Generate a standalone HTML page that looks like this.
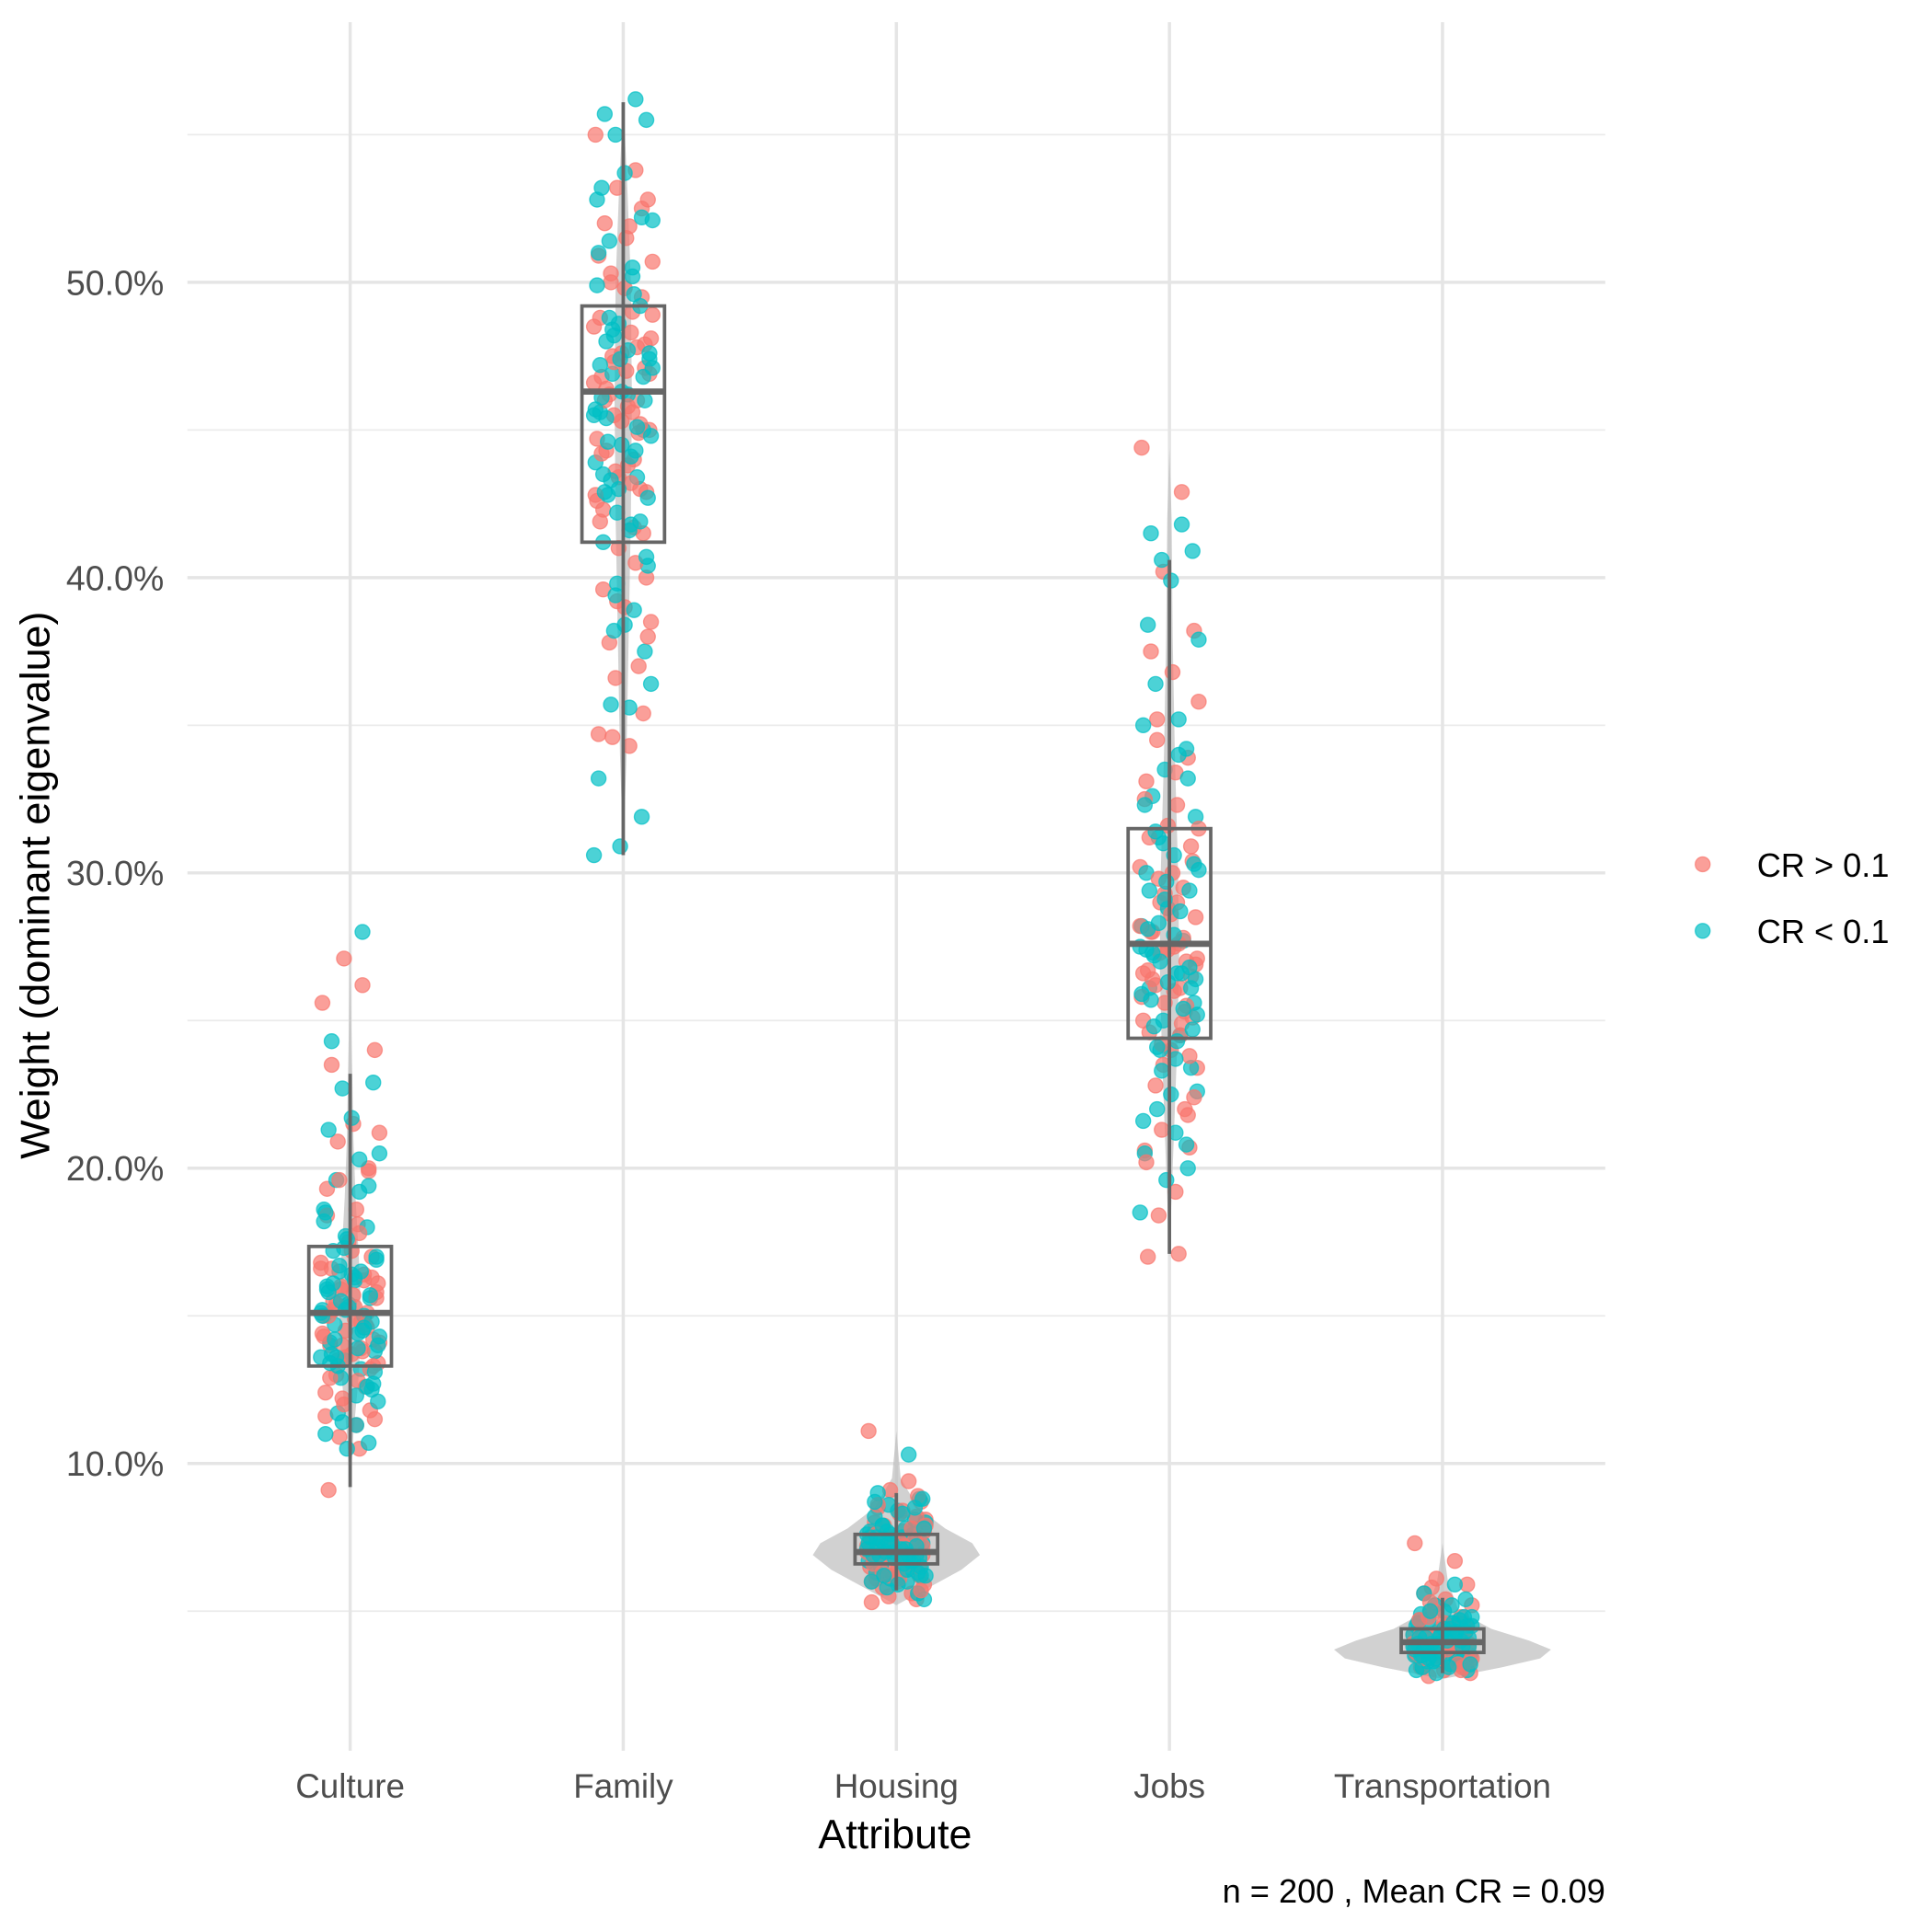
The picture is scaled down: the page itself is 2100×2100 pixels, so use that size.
<!DOCTYPE html>
<html><head><meta charset="utf-8"><style>
html,body{margin:0;padding:0;background:#fff;}
svg{display:block;font-family:"Liberation Sans",Arial,sans-serif;}
</style></head>
<body>
<svg id="chart" width="2100" height="2100" viewBox="0 0 1567 1567" xmlns="http://www.w3.org/2000/svg">
<g id="grid"></g>
<g id="violins"></g>
<g id="points"></g>
<g id="boxes"></g>
<g id="axes"></g>
<text transform="translate(40,718) rotate(-90)" text-anchor="middle" font-size="33.5" fill="#000">Weight (dominant eigenvalue)</text>
<text x="726" y="1499" text-anchor="middle" font-size="33.5" fill="#000">Attribute</text>
<text x="1302" y="1543" text-anchor="end" font-size="27" fill="#000">n = 200 , Mean CR = 0.09</text>
<g>
<circle cx="1381" cy="701" r="6" fill="#F8766D" fill-opacity="0.7" stroke="#F8766D" stroke-opacity="0.7"/>
<text x="1425" y="711" font-size="27" fill="#000">CR &gt; 0.1</text>
<circle cx="1381" cy="755" r="6" fill="#00BFC4" fill-opacity="0.7" stroke="#00BFC4" stroke-opacity="0.7"/>
<text x="1425" y="765" font-size="27" fill="#000">CR &lt; 0.1</text>
</g>
</svg>
<script>
const categories=["Culture","Family","Housing","Jobs","Transportation"];
const yTicks=[10,20,30,40,50];
const yTickLabels=["10.0%","20.0%","30.0%","40.0%","50.0%"];
const yMinor=[5,15,25,35,45,55];
const boxQ1=[13.3,41.2,6.6,24.4,3.6];
const boxMedian=[15.1,46.3,7.0,27.6,3.95];
const boxQ3=[17.35,49.2,7.6,31.5,4.4];
const whiskerLow=[9.2,30.6,5.7,17.1,2.9];
const whiskerHigh=[23.2,56.1,9.0,40.6,5.45];
const violinLevels=[
 [9.1,11,13,15,17,19,21,23,25,28],
 [30.6,34,38,42,46,50,53,56.2],
 [5.2,5.8,6.4,6.9,7.3,7.8,8.5,9.5,11.1],
 [17,20,24,27,30,34,38,42,44.4],
 [2.7,3.1,3.4,3.7,4.0,4.4,5.0,6.0,7.3]];
const violinDensity=[
 [0,0.03,0.08,0.1,0.08,0.05,0.03,0.02,0.01,0],
 [0,0.03,0.05,0.07,0.08,0.07,0.04,0],
 [0,0.3,0.6,0.77,0.7,0.45,0.2,0.04,0],
 [0,0.03,0.07,0.09,0.08,0.05,0.03,0.02,0],
 [0,0.55,0.9,1.0,0.8,0.45,0.15,0.05,0]];
const redValues=[
 [25.6,26.2,27.1,24.0,23.5,21.5,21.2,20.9,19.9,19.3,18.1,17.5,17.0,16.6,16.2,16.0,15.8,15.5,15.3,15.1,15.0,14.8,14.5,14.2,14.0,13.7,13.4,13.0,12.6,12.2,11.8,11.6,11.3,10.9,10.5,9.1],
 [55.0,53.8,53.2,52.8,52.0,51.5,50.7,50.0,49.5,48.8,48.3,47.6,47.1,46.6,46.0,45.5,45.0,44.3,43.8,43.0,42.6,41.7,41.0,40.0,39.6,39.0,38.5,37.8,37.0,36.6,35.4,34.7,34.3,34.6,49.0,46.8],
 [11.1,9.4,9.1,8.7,8.5,8.3,8.1,7.9,7.8,7.6,7.5,7.4,7.3,7.2,7.1,7.0,6.9,6.8,6.7,6.6,6.5,6.4,6.3,6.2,6.1,6.0,5.9,5.8,5.6,5.5,5.4,5.3,7.7,6.9,7.2,8.0],
 [44.4,42.9,40.2,38.2,37.5,36.8,35.8,35.2,33.9,33.1,32.3,31.6,30.9,30.2,29.5,29.0,28.5,28.0,27.5,27.0,26.6,26.1,25.6,25.1,24.6,24.0,23.4,22.8,22.0,21.3,20.7,20.6,19.2,18.4,17.1,17.0],
 [7.3,6.7,6.1,5.9,5.6,5.4,5.2,5.0,4.8,4.7,4.5,4.4,4.3,4.2,4.1,4.0,3.9,3.8,3.7,3.6,3.5,3.4,3.3,3.2,3.1,3.0,2.9,2.8,4.6,3.9,4.2,3.6,3.3,5.8,4.0,3.1]];
const tealValues=[
 [28.0,24.3,22.9,22.7,21.7,21.3,20.5,19.6,19.2,18.6,18.0,17.7,17.2,16.9,16.5,16.2,15.9,15.6,15.4,15.2,15.0,14.7,14.4,14.1,13.8,13.5,13.2,12.9,12.5,12.1,11.7,11.3,11.0,10.7,10.5,13.6],
 [56.2,55.7,55.5,55.0,53.7,53.2,52.1,51.4,50.5,49.9,49.2,48.6,48.0,47.4,46.9,46.2,45.6,45.0,44.5,43.9,43.4,42.8,41.8,41.2,40.4,39.8,38.9,38.2,37.5,36.4,35.7,35.6,33.2,31.9,30.9,30.6],
 [10.3,9.0,8.8,8.6,8.4,8.2,8.0,7.9,7.8,7.7,7.6,7.5,7.4,7.3,7.2,7.1,7.0,6.9,6.8,6.7,6.6,6.5,6.4,6.3,6.2,6.1,6.0,5.8,5.6,5.4,7.3,7.5,7.0,8.1,6.8,7.6],
 [41.8,41.5,40.9,40.6,39.9,38.4,37.9,36.4,35.2,35.0,34.2,33.5,32.6,31.9,31.2,30.6,30.0,29.4,28.8,28.2,27.7,27.2,26.6,26.1,25.6,25.0,24.5,24.0,23.4,22.6,22.0,21.2,20.5,20.0,19.6,18.5],
 [5.9,5.6,5.4,5.2,5.0,4.9,4.8,4.7,4.6,4.5,4.4,4.3,4.2,4.1,4.0,3.9,3.8,3.7,3.6,3.5,3.4,3.3,3.2,3.1,3.0,2.9,4.1,3.8,4.4,3.5,4.0,3.7,4.6,3.3,3.9,4.2]];
const redValues2=[
 [16.8,16.4,15.9,15.6,15.2,14.9,14.6,14.3,13.9,13.6,13.3,12.9,17.2,16.1,15.4,14.7,14.0,13.2,12.4,18.6,19.6,17.8,15.0,14.4,13.8,12.0,11.5,16.6,15.7,14.1,13.5,20.0,18.4,12.8,15.3,16.3],
 [48.5,47.8,47.3,46.9,46.4,45.8,45.2,44.7,44.0,43.4,42.9,42.3,49.8,48.1,46.2,44.9,43.6,41.5,50.9,51.9,47.5,45.6,44.2,42.8,40.5,39.2,38.0,46.0,47.0,48.9,50.3,52.5,41.9,43.2,45.3,47.9],
 [7.0,7.1,6.9,7.2,6.8,7.3,6.7,7.4,6.6,7.5,6.5,7.6,6.4,7.7,6.3,7.8,6.2,8.2,6.0,8.4,7.0,7.1,6.9,7.2,6.8,7.3,5.7,8.6,6.1,7.9,7.0,7.4,6.6,7.2,6.8,8.9],
 [28.2,27.8,27.3,26.9,26.4,26.0,25.5,25.0,24.5,29.3,30.4,31.2,28.6,27.1,26.2,25.3,24.2,23.8,32.5,33.4,29.8,27.6,26.7,25.8,24.9,23.5,22.4,28.0,30.0,31.5,34.5,21.8,20.2,29.0,27.4,26.5],
 [3.9,4.0,4.1,3.8,4.2,3.7,4.3,3.6,4.4,3.5,4.5,3.4,4.6,3.3,4.8,3.2,5.0,3.1,3.9,4.0,4.1,3.8,4.2,3.7,4.3,3.6,4.4,3.5,4.5,3.4,5.3,3.0,4.7,3.9,4.1,3.8]];
const tealValues2=[
 [16.7,16.3,16.0,15.7,15.3,15.0,14.6,14.2,13.9,13.4,13.1,17.3,16.5,15.5,14.8,14.0,13.3,12.3,18.5,19.4,17.6,15.1,14.5,13.7,12.7,11.4,16.4,15.8,14.3,13.6,20.3,18.2,12.6,15.2,16.1,17.0],
 [48.4,47.7,47.2,46.8,46.3,45.7,45.1,44.6,44.1,43.5,42.7,42.2,49.6,48.2,46.0,44.8,43.3,41.6,51.0,52.2,47.4,45.5,44.3,42.9,40.7,39.4,38.4,46.1,47.1,48.8,50.2,52.8,41.9,43.0,45.4,47.6],
 [7.0,7.1,6.9,7.2,6.8,7.3,6.7,7.4,6.6,7.5,6.5,7.6,6.4,7.7,6.3,7.8,6.2,8.3,6.0,8.5,7.0,7.1,6.9,7.2,6.8,7.3,5.9,8.7,6.2,7.9,7.1,7.5,6.7,7.3,6.9,8.8],
 [28.3,27.9,27.4,26.8,26.3,25.9,25.4,24.8,24.3,29.4,30.3,31.0,28.7,27.0,26.1,25.2,24.1,23.7,32.3,33.2,29.7,27.5,26.6,25.7,24.7,23.3,22.5,28.1,30.1,31.4,34.0,21.6,20.8,29.1,27.3,26.4],
 [3.9,4.0,4.1,3.8,4.2,3.7,4.3,3.6,4.4,3.5,4.5,3.4,4.6,3.3,4.8,3.2,5.0,3.1,3.9,4.0,4.1,3.8,4.2,3.7,4.3,3.6,4.4,3.5,4.5,3.4,5.2,3.0,4.7,3.9,4.1,3.8]];

const NS="http://www.w3.org/2000/svg";
const panelL=152,panelR=1302,panelT=18,panelB=1420;
const y0=1426.5,yPer=23.95;
function yScale(v){return y0-v*yPer;}
function xScale(i){return 284+i*221.5;}
const jit=[-0.9,0.4,-0.2,0.8,-0.6,0.1,0.95,-0.4,0.6,-0.75,0.25,-0.05,0.7,-0.95,0.45,-0.3,0.85,-0.55,0.15,0.55,-0.85,0.35,-0.15,0.75,-0.65,0.05,0.9,-0.45,0.5,-0.25,0.65,-0.8,0.2,-0.35,0.3,-0.7];
function mk(tag,attrs,parent){const e=document.createElementNS(NS,tag);for(const k in attrs)e.setAttribute(k,attrs[k]);parent.appendChild(e);return e;}

const grid=document.getElementById('grid');
yMinor.forEach(v=>{const l=mk('line',{x1:panelL,x2:panelR,y1:yScale(v),y2:yScale(v),stroke:'#ebebeb','stroke-width':1.3},grid);

});
yTicks.forEach(v=>{const l=mk('line',{x1:panelL,x2:panelR,y1:yScale(v),y2:yScale(v),stroke:'#e5e5e5','stroke-width':2.6},grid);

});
categories.forEach((c,i)=>{const l=mk('line',{x1:xScale(i),x2:xScale(i),y1:panelT,y2:panelB,stroke:'#e5e5e5','stroke-width':2.6},grid);

});

const axes=document.getElementById('axes');
yTicks.forEach((v,i)=>{const t=mk('text',{x:133,y:yScale(v)+10,'text-anchor':'end','font-size':28,fill:'#4d4d4d'},axes);t.textContent=yTickLabels[i];

});
categories.forEach((c,i)=>{const t=mk('text',{x:xScale(i),y:1458,'text-anchor':'middle','font-size':27.5,fill:'#4d4d4d'},axes);t.textContent=c;

});

const vg=document.getElementById('violins');
categories.forEach((c,i)=>{const lv=violinLevels[i],dn=violinDensity[i],cx=xScale(i),W=88;
let d='M';lv.forEach((v,k)=>{d+=(cx+dn[k]*W)+','+yScale(v)+' L';});
for(let k=lv.length-1;k>=0;k--){d+=(cx-dn[k]*W)+','+yScale(lv[k])+(k>0?' L':' Z');}
const p=mk('path',{d:d,fill:'#bdbdbd','fill-opacity':0.7,stroke:'none'},vg);

});

const pg=document.getElementById('points');
function drawSet(vals,i,color,shift,sign,name){
 vals.forEach((v,k)=>{const e=mk('circle',{cx:xScale(i)+sign*jit[(k+shift)%jit.length]*25,cy:yScale(v),r:6,fill:color,'fill-opacity':0.7,stroke:color,'stroke-opacity':0.7,'stroke-width':1},pg);
 
 });
}
categories.forEach((c,i)=>{
 drawSet(redValues[i],i,'#F8766D',0,1,'point-cr-high');
 drawSet(tealValues[i],i,'#00BFC4',7,-1,'point-cr-low');
 drawSet(redValues2[i],i,'#F8766D',13,1,'point-cr-high');
 drawSet(tealValues2[i],i,'#00BFC4',21,-1,'point-cr-low');
});

const bg=document.getElementById('boxes');
categories.forEach((c,i)=>{const cx=xScale(i),hw=33.5;
 const w=mk('line',{x1:cx,x2:cx,y1:yScale(whiskerLow[i]),y2:yScale(whiskerHigh[i]),stroke:'#666','stroke-width':2.8},bg);
 
 
 const r=mk('rect',{x:cx-hw,width:2*hw,y:yScale(boxQ3[i]),height:yScale(boxQ1[i])-yScale(boxQ3[i]),fill:'none',stroke:'#666','stroke-width':2.8},bg);
 
 
 const m=mk('line',{x1:cx-hw,x2:cx+hw,y1:yScale(boxMedian[i]),y2:yScale(boxMedian[i]),stroke:'#666','stroke-width':5},bg);
 
 
});
</script>
</body></html>
